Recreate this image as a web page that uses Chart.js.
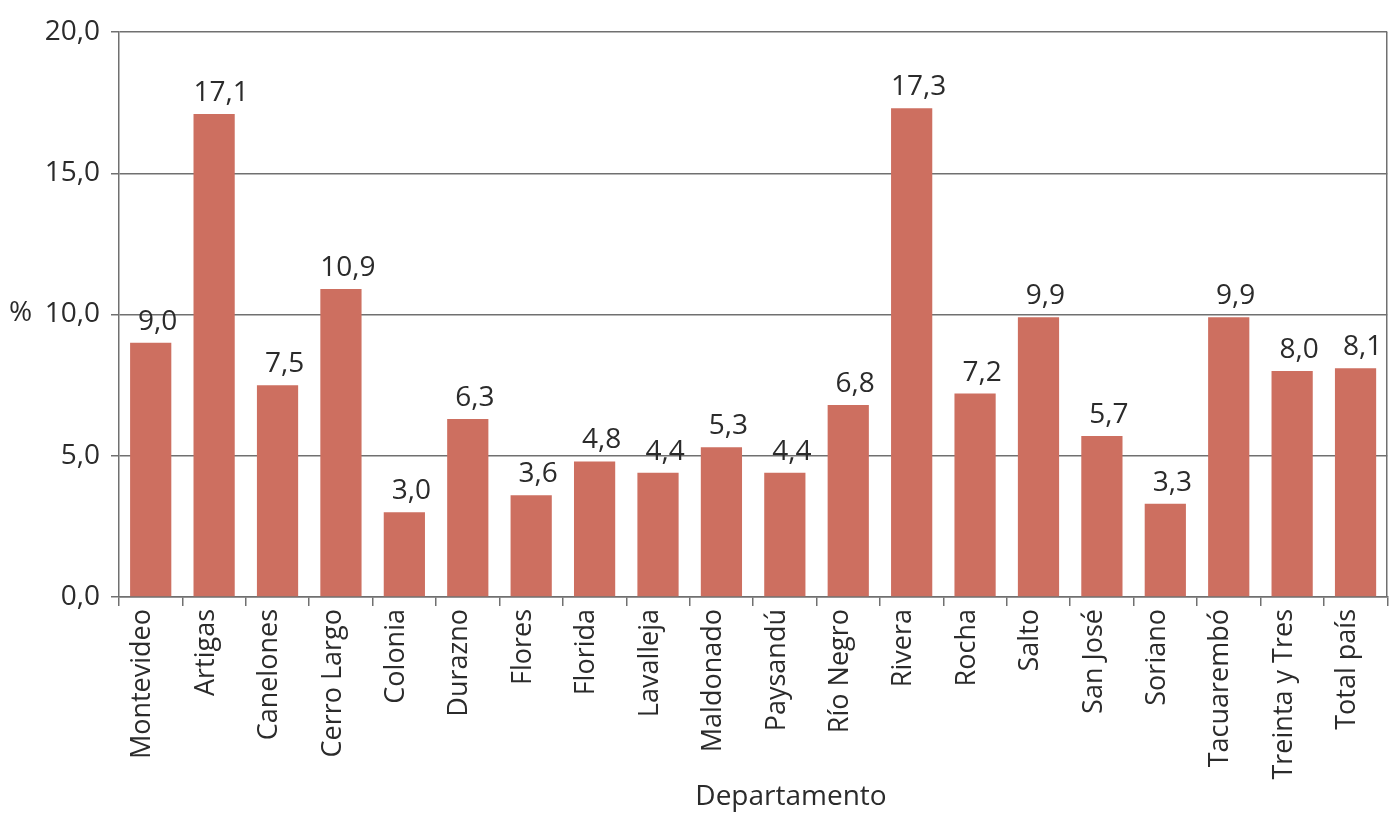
<!DOCTYPE html>
<html>
<head>
<meta charset="utf-8">
<script src="https://cdn.jsdelivr.net/npm/chart.js@4/dist/chart.umd.min.js"></script>
<style>
html,body{margin:0;padding:0;background:#fff;}
#wrap{width:1391px;height:813px;position:relative;}
</style>
</head>
<body>
<div id="wrap"><canvas id="c" width="1391" height="813"></canvas></div>
<script>
const categories = ["Montevideo","Artigas","Canelones","Cerro Largo","Colonia","Durazno","Flores","Florida","Lavalleja","Maldonado","Paysandú","Río Negro","Rivera","Rocha","Salto","San José","Soriano","Tacuarembó","Treinta y Tres","Total país"];
const values = [9.0,17.1,7.5,10.9,3.0,6.3,3.6,4.8,4.4,5.3,4.4,6.8,17.3,7.2,9.9,5.7,3.3,9.9,8.0,8.1];
const yTicks = [0,5,10,15,20];
const yAxisLabel = "%";
const xAxisTitle = "Departamento";

const FONT = "'Open Sans', 'Noto Sans', sans-serif";
const TXT = '#2b2b2b';
const GRID = '#707070';
const fmt = v => v.toFixed(1).replace('.', ',');

const extras = {
  id: 'extras',
  afterDatasetsDraw(chart) {
    const ctx = chart.ctx;
    const meta = chart.getDatasetMeta(0);
    ctx.save();
    ctx.fillStyle = TXT;
    ctx.font = "28px " + FONT;
    ctx.textAlign = 'center';
    ctx.textBaseline = 'alphabetic';
    meta.data.forEach((bar, i) => {
      ctx.fillText(fmt(values[i]), bar.x + 7, bar.y - 13);
    });
    ctx.restore();
  },
  afterDraw(chart) {
    const ctx = chart.ctx;
    const a = chart.chartArea;
    const y = chart.scales.y;
    ctx.save();
    ctx.strokeStyle = GRID;
    ctx.lineWidth = 1.5;
    ctx.beginPath();
    ctx.moveTo(a.right - 0.5, a.top);
    ctx.lineTo(a.right - 0.5, a.bottom);
    ctx.stroke();
    ctx.fillStyle = TXT;
    ctx.font = "28px " + FONT;
    ctx.textBaseline = 'middle';
    ctx.textAlign = 'left';
    ctx.fillText(yAxisLabel, 9, y.getPixelForValue(10) - 1);
    ctx.textAlign = 'center';
    ctx.fillText(xAxisTitle, 791, 797);
    ctx.restore();
  }
};

new Chart(document.getElementById('c'), {
  type: 'bar',
  data: {
    labels: categories,
    datasets: [{
      data: values,
      backgroundColor: '#CD6F60',
      borderWidth: 0,
      barPercentage: 0.65,
      categoryPercentage: 1.0
    }]
  },
  options: {
    responsive: false,
    animation: false,
    layout: { padding: { top: 32, right: 2, left: 0, bottom: 0 } },
    plugins: { legend: { display: false }, tooltip: { enabled: false } },
    scales: {
      x: {
        grid: { display: true, drawOnChartArea: false, drawTicks: true, tickLength: 9, color: GRID, lineWidth: 1.5, offset: true },
        border: { display: true, color: GRID, width: 1.5 },
        ticks: {
          color: TXT, font: { family: FONT, size: 27 }, minRotation: 90, maxRotation: 90,
          padding: 3, labelOffset: -8, autoSkip: false
        },
        afterFit(scale) { scale.height = 216; }
      },
      y: {
        min: 0, max: 20,
        afterBuildTicks(scale) { scale.ticks = yTicks.map(v => ({ value: v })); },
        grid: { color: GRID, lineWidth: 1.5, drawTicks: true, tickLength: 8 },
        border: { display: true, color: GRID, width: 1.5 },
        ticks: {
          color: TXT, font: { family: FONT, size: 28 }, padding: 11,
          callback: v => fmt(v)
        },
        afterFit(scale) { scale.width = 119; }
      }
    }
  },
  plugins: [extras]
});
</script>
</body>
</html>
